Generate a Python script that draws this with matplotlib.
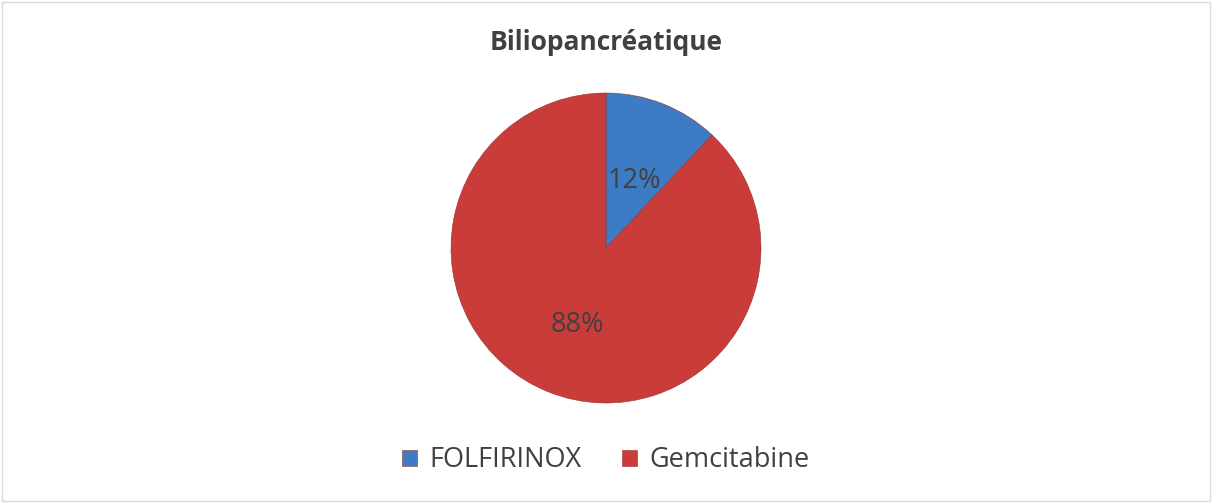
import matplotlib
matplotlib.use("Agg")
import matplotlib.pyplot as plt
from matplotlib.patches import Rectangle

labels = ["FOLFIRINOX", "Gemcitabine"]
shares = [12, 88]
colors = ["#3D7CC5", "#C93C3A"]

plt.rcParams["font.family"] = ["Open Sans", "DejaVu Sans"]

fig = plt.figure(figsize=(12.12, 5.03), dpi=100)
fig.patches.append(Rectangle((0.002, 0.003), 0.996, 0.993, transform=fig.transFigure,
                             fill=False, edgecolor="#d9d9d9", linewidth=1.0))

ax = fig.add_axes([0.3721, 0.1988, 0.2558, 0.6163])
wedges, texts, autotexts = ax.pie(
    shares, colors=colors, startangle=90, counterclock=False,
    autopct="%d%%", pctdistance=0.5,
    wedgeprops=dict(edgecolor="#9a3230", linewidth=0.4),
    textprops=dict(color="#404040", fontsize=19.5))
# nudge labels a touch lower, like the original
for t in autotexts:
    x, y = t.get_position()
    t.set_position((x, y - 0.03))
ax.set_xlim(-1, 1); ax.set_ylim(-1, 1)
ax.set_aspect("equal")

fig.text(0.5, 0.915, "Biliopancréatique", ha="center", va="center",
         fontsize=19, fontweight="bold", color="#404040")

fig.legend(wedges, labels, loc="center", bbox_to_anchor=(0.5, 0.085), ncol=2,
           frameon=False, fontsize=19.5, handlelength=0.55, handleheight=0.55,
           handletextpad=0.45, columnspacing=1.5, labelcolor="#404040")

fig.savefig("out.png", dpi=100)
